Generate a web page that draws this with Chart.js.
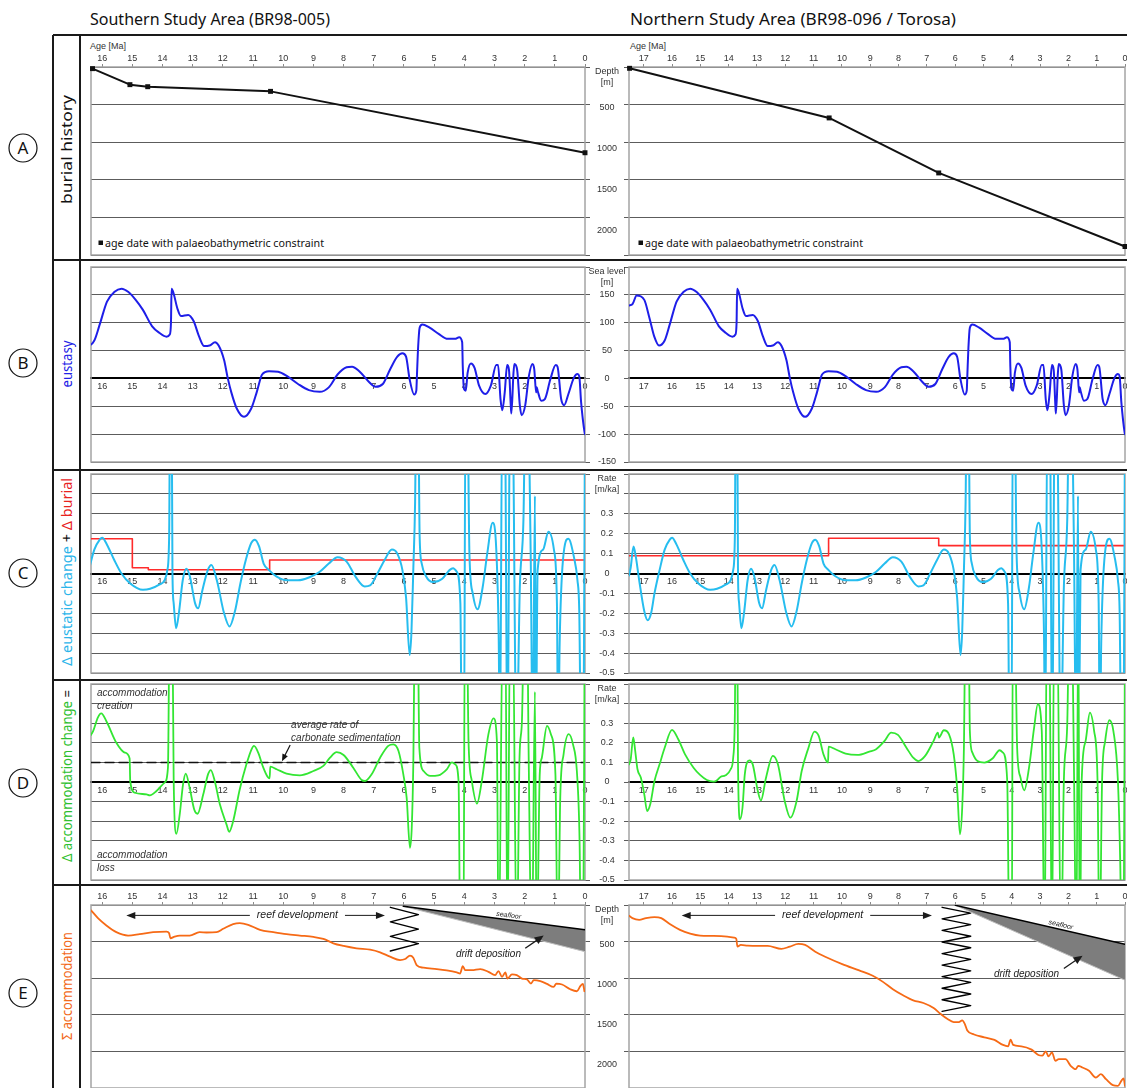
<!DOCTYPE html>
<html lang="en">
<head>
<meta charset="utf-8">
<title>Accommodation history</title>
<script src="https://cdn.jsdelivr.net/npm/chart.js@4.4.1/dist/chart.umd.min.js"></script>
<style>
  html, body { margin: 0; padding: 0; background: #fff; }
  body { position: relative; width: 1127px; height: 1088px; overflow: hidden; }
  #frame { position: absolute; left: 0; top: 0; }
  canvas.panel { position: absolute; }
</style>
</head>
<body>
<svg id="frame" width="1127" height="1088" xmlns="http://www.w3.org/2000/svg">
  <g stroke="#1a1a1a" stroke-width="2" fill="none">
    <line x1="53" y1="35" x2="1127" y2="35"/>
    <line x1="53" y1="260" x2="1127" y2="260"/>
    <line x1="53" y1="470" x2="1127" y2="470"/>
    <line x1="53" y1="680" x2="1127" y2="680"/>
    <line x1="53" y1="885" x2="1127" y2="885"/>
    <line x1="53" y1="35" x2="53" y2="1088"/>
    <line x1="80" y1="35" x2="80" y2="1088"/>
  </g>
  <g stroke="#111" stroke-width="1.2" fill="none">
    <circle cx="23" cy="148" r="14"/>
    <circle cx="23" cy="363" r="14"/>
    <circle cx="23" cy="573" r="14"/>
    <circle cx="23" cy="783" r="14"/>
    <circle cx="23" cy="993" r="14"/>
  </g>
  <g font-family="'Noto Sans', sans-serif" font-size="17" text-anchor="middle" fill="#111">
    <text x="23" y="154">A</text>
    <text x="23" y="369">B</text>
    <text x="23" y="579">C</text>
    <text x="23" y="789">D</text>
    <text x="23" y="999">E</text>
  </g>
  <g font-family="'Noto Sans', sans-serif" font-size="15.5" fill="#111">
    <text x="90" y="25" textLength="240" lengthAdjust="spacingAndGlyphs">Southern Study Area (BR98-005)</text>
    <text x="630" y="25" textLength="326" lengthAdjust="spacingAndGlyphs">Northern Study Area (BR98-096 / Torosa)</text>
  </g>
  <g font-family="'Liberation Sans', Arial, sans-serif" font-size="9" fill="#333">
    <text x="90" y="49">Age [Ma]</text>
    <text x="630" y="49">Age [Ma]</text>
  </g>
  <g font-family="'Noto Sans', sans-serif" font-size="10.5" fill="#111">
    <rect x="98.5" y="240.5" width="4.5" height="4.5" fill="#111"/>
    <text x="105" y="247" textLength="219" lengthAdjust="spacingAndGlyphs">age date with palaeobathymetric constraint</text>
    <rect x="638.5" y="240.5" width="4.5" height="4.5" fill="#111"/>
    <text x="645" y="247" textLength="218" lengthAdjust="spacingAndGlyphs">age date with palaeobathymetric constraint</text>
  </g>
  <g font-family="'Noto Sans', sans-serif" font-size="14" text-anchor="middle" fill="#111">
    <text transform="translate(72,149.5) rotate(-90)" textLength="109" lengthAdjust="spacingAndGlyphs">burial history</text>
    <text transform="translate(72,364) rotate(-90)" textLength="47" lengthAdjust="spacingAndGlyphs" fill="#2323e6">eustasy</text>
    <text transform="translate(72,572) rotate(-90)" textLength="188" lengthAdjust="spacingAndGlyphs"><tspan fill="#2cb5ea">Δ eustatic change</tspan><tspan fill="#111"> + </tspan><tspan fill="#e8231f">Δ burial</tspan></text>
    <text transform="translate(72,776) rotate(-90)" textLength="172" lengthAdjust="spacingAndGlyphs"><tspan fill="#2fc02f">Δ accommodation change</tspan><tspan fill="#111"> =</tspan></text>
    <text transform="translate(72,986) rotate(-90)" textLength="108" lengthAdjust="spacingAndGlyphs" fill="#f26a1b">Σ accommodation</text>
  </g>
</svg>
<script>
// ---------- data, ages in Ma ----------

// A: burial history [age, depth m]
const burialS = [[16.32, 20], [15.08, 216], [14.49, 241], [10.42, 298], [0, 1049]];
const burialN = [[17.5, 16], [10.45, 623], [6.58, 1296], [0, 2196]];

// B: eustasy [age, sea level m]
const eustasy = [
  [17.52, 131], [17.4, 133], [17.25, 149], [16.98, 141], [16.8, 109], [16.62, 74], [16.46, 59], [16.26, 68],
  [16.08, 97], [15.84, 138], [15.6, 155], [15.36, 161], [15.13, 155], [14.89, 141], [14.65, 123], [14.35, 94],
  [14.11, 82], [13.87, 75], [13.76, 79], [13.72, 100], [13.7, 161], [13.63, 152], [13.51, 126], [13.39, 112],
  [13.15, 114], [12.97, 103], [12.8, 77], [12.62, 58], [12.44, 59], [12.26, 65], [12.14, 59], [11.96, 33],
  [11.84, 1], [11.72, -25], [11.54, -54], [11.3, -69], [11.06, -54], [10.88, -25], [10.7, 7], [10.47, 13],
  [10.17, 12], [9.87, 4], [9.51, -10], [9.15, -21], [8.79, -24], [8.49, -16], [8.2, 7], [7.9, 20],
  [7.72, 21], [7.48, 13], [7.18, -5], [6.94, -15], [6.7, -10], [6.46, 16], [6.22, 39], [6.05, 45],
  [5.93, 39], [5.81, -2], [5.66, -29], [5.59, -22], [5.57, 4], [5.53, 56], [5.48, 91], [5.39, 97],
  [5.15, 91], [4.85, 80], [4.55, 71], [4.31, 71], [4.17, 74], [4.07, 65], [4.05, 21], [4.01, -19],
  [3.95, -22], [3.89, 10], [3.78, 27], [3.66, 19], [3.51, -13], [3.3, -28], [3.12, -13], [2.94, 24],
  [2.88, 24], [2.8, -37], [2.74, -57], [2.66, -25], [2.58, 24], [2.52, 16], [2.46, -48], [2.44, -63],
  [2.37, 10], [2.34, 26], [2.25, 16], [2.16, -48], [2.1, -66], [1.98, -48], [1.86, 4], [1.74, 26],
  [1.68, 16], [1.62, -25], [1.6, -16], [1.57, -22], [1.45, -40], [1.33, -37], [1.15, -2], [0.97, 24],
  [0.91, 21], [0.79, -37], [0.69, -48], [0.55, -28], [0.37, 1], [0.25, 8], [0.19, 4], [0.13, -42],
  [0.01, -98], [0, -100]
];

// C: rate of eustatic change [age, m/ka] (values beyond +-0.5 run off the plot)
const eustRate = [
  [17.52, -0.01], [17.46, 0.03], [17.36, 0.136], [17.28, 0.085], [17.16, -0.034], [16.98, -0.19], [16.86, -0.235],
  [16.74, -0.2], [16.62, -0.1], [16.44, 0.017], [16.26, 0.12], [16.08, 0.17], [16.0, 0.18], [15.84, 0.145],
  [15.6, 0.068], [15.36, 0.0], [15.07, -0.05], [14.65, -0.082], [14.41, -0.077], [14.11, -0.056], [13.93, -0.034],
  [13.84, 0.017], [13.78, 0.19], [13.75, 0.9], [13.7, 0.9], [13.67, 0.0], [13.63, -0.15], [13.55, -0.275],
  [13.45, -0.19], [13.33, -0.034], [13.21, 0.024], [13.09, -0.017], [12.92, -0.15], [12.82, -0.175], [12.68, -0.085],
  [12.5, 0.017], [12.38, 0.043], [12.2, -0.034], [11.96, -0.2], [11.78, -0.266], [11.6, -0.19], [11.42, -0.05],
  [11.24, 0.068], [11.06, 0.153], [10.94, 0.17], [10.8, 0.136], [10.65, 0.05], [10.47, 0.017], [10.23, -0.014],
  [9.87, -0.034], [9.51, -0.034], [9.15, -0.02], [8.79, 0.009], [8.49, 0.05], [8.2, 0.082], [7.9, 0.06],
  [7.6, -0.017], [7.3, -0.065], [7.12, -0.06], [6.88, 0.0], [6.64, 0.068], [6.4, 0.12], [6.22, 0.1],
  [6.05, 0.017], [5.93, -0.12], [5.81, -0.41], [5.75, -0.29], [5.69, 0.017], [5.63, 0.36], [5.59, 0.9],
  [5.53, 0.9], [5.48, 0.19], [5.41, 0.05], [5.27, -0.014], [5.03, -0.043], [4.73, -0.026], [4.49, 0.017],
  [4.37, 0.026], [4.25, 0.009], [4.13, -0.15], [4.08, -0.9], [4.01, -0.9], [3.96, 0.9], [3.9, 0.9],
  [3.83, 0.1], [3.72, -0.1], [3.56, -0.18], [3.39, -0.068], [3.24, 0.1], [3.06, 0.255], [2.94, 0.12],
  [2.86, -0.32], [2.82, -0.9], [2.74, 0.9], [2.66, 0.9], [2.57, -0.9], [2.48, 0.9], [2.41, 0.9],
  [2.27, -0.9], [2.16, -0.07], [2.04, 0.27], [1.97, 0.9], [1.9, 0.9], [1.8, 0.1], [1.73, -0.9],
  [1.66, 0.39], [1.63, -0.9], [1.57, 0.017], [1.39, 0.12], [1.21, 0.21], [1.03, 0.12], [0.93, -0.15],
  [0.89, -0.9], [0.84, -0.35], [0.73, 0.068], [0.55, 0.174], [0.37, 0.085], [0.25, -0.034], [0.19, -0.19],
  [0.13, -0.9], [0.05, -0.9], [0.0, 0.9]
];

// C: burial rate, held from each age until the next [age, m/ka]
const burialRateS = [[16.37, 0.175], [15.0, 0.029], [14.47, 0.019], [10.45, 0.068], [0, 0.068]];
const burialRateN = [[17.52, 0.089], [10.47, 0.177], [6.58, 0.14], [0, 0.14]];

// D: accommodation change [age, m/ka]
const accRateS = [
  [16.42, 0.23], [16.3, 0.26], [16.14, 0.33], [16.03, 0.35], [15.86, 0.31], [15.53, 0.2], [15.25, 0.15],
  [15.09, 0.12], [15.07, 0.005], [14.92, -0.055], [14.53, -0.063], [14.42, -0.068], [14.2, -0.046], [13.93, -0.003],
  [13.82, 0.073], [13.76, 0.9], [13.68, 0.9], [13.63, 0.005], [13.54, -0.264], [13.43, -0.165], [13.32, -0.012],
  [13.23, 0.043], [13.1, -0.03], [12.95, -0.14], [12.84, -0.162], [12.65, -0.063], [12.49, 0.04], [12.4, 0.061],
  [12.27, 0.005], [12.1, -0.114], [11.88, -0.216], [11.79, -0.254], [11.66, -0.2], [11.44, -0.037], [11.22, 0.09],
  [11.05, 0.167], [10.97, 0.184], [10.83, 0.15], [10.66, 0.073], [10.52, 0.027], [10.45, 0.019], [10.43, 0.078],
  [10.22, 0.065], [9.89, 0.043], [9.45, 0.034], [9.0, 0.056], [8.67, 0.082], [8.45, 0.124], [8.23, 0.152],
  [8.0, 0.138], [7.68, 0.073], [7.4, 0.01], [7.29, 0.005], [7.07, 0.039], [6.79, 0.124], [6.52, 0.184],
  [6.35, 0.192], [6.18, 0.158], [6.02, 0.039], [5.91, -0.08], [5.8, -0.336], [5.74, -0.23], [5.69, 0.09],
  [5.63, 0.9], [5.55, 0.9], [5.49, 0.175], [5.35, 0.056], [5.13, 0.031], [4.86, 0.034], [4.58, 0.065],
  [4.41, 0.1], [4.3, 0.09], [4.19, 0.005], [4.13, -0.9], [4.03, -0.9], [3.98, 0.9], [3.92, 0.9],
  [3.86, 0.21], [3.75, 0.005], [3.58, -0.11], [3.42, 0.005], [3.2, 0.244], [3.03, 0.325], [2.92, 0.21],
  [2.86, -0.9], [2.72, 0.9], [2.64, 0.9], [2.57, -0.9], [2.48, 0.9], [2.4, 0.9], [2.26, -0.9],
  [2.17, 0.124], [2.09, 0.31], [2.01, 0.9], [1.92, 0.9], [1.87, 0.175], [1.76, -0.9], [1.66, 0.46],
  [1.6, -0.9], [1.5, 0.039], [1.43, 0.124], [1.26, 0.286], [1.13, 0.244], [0.98, 0.039], [0.9, -0.9],
  [0.82, -0.08], [0.71, 0.141], [0.54, 0.244], [0.4, 0.193], [0.27, 0.056], [0.18, -0.3], [0.13, -0.9],
  [0.06, -0.9], [0.01, 0.9]
];
const accRateN = [
  [17.52, 0.09], [17.46, 0.116], [17.37, 0.227], [17.3, 0.158], [17.22, 0.065], [17.1, 0.022], [16.98, -0.063],
  [16.88, -0.148], [16.77, -0.114], [16.62, 0.005], [16.44, 0.09], [16.26, 0.175], [16.0, 0.266], [15.78, 0.218],
  [15.54, 0.141], [15.24, 0.073], [15.01, 0.036], [14.77, 0.01], [14.53, 0.002], [14.41, 0.009], [14.29, 0.026],
  [14.11, 0.034], [13.93, 0.065], [13.84, 0.124], [13.78, 0.354], [13.75, 0.9], [13.7, 0.9], [13.67, 0.1],
  [13.6, -0.19], [13.51, -0.13], [13.43, 0.039], [13.27, 0.11], [13.15, 0.09], [12.97, -0.046], [12.86, -0.094],
  [12.68, 0.022], [12.44, 0.133], [12.26, 0.09], [12.02, -0.097], [11.82, -0.182], [11.6, -0.097], [11.42, 0.056],
  [11.18, 0.175], [10.97, 0.257], [10.82, 0.235], [10.65, 0.141], [10.49, 0.099], [10.47, 0.18], [10.23, 0.167],
  [9.87, 0.145], [9.45, 0.138], [9.03, 0.155], [8.79, 0.167], [8.49, 0.21], [8.26, 0.252], [8.02, 0.24],
  [7.72, 0.175], [7.48, 0.124], [7.3, 0.107], [7.06, 0.133], [6.76, 0.21], [6.61, 0.252], [6.57, 0.227],
  [6.4, 0.264], [6.22, 0.244], [6.05, 0.141], [5.93, -0.029], [5.83, -0.267], [5.75, -0.13], [5.69, 0.175],
  [5.63, 0.9], [5.53, 0.9], [5.48, 0.26], [5.39, 0.15], [5.21, 0.107], [4.97, 0.099], [4.67, 0.121],
  [4.43, 0.162], [4.31, 0.15], [4.16, 0.005], [4.08, -0.9], [4.0, -0.9], [3.96, 0.9], [3.9, 0.9],
  [3.81, 0.175], [3.69, 0.022], [3.56, -0.043], [3.39, 0.073], [3.21, 0.278], [3.08, 0.397], [2.94, 0.26],
  [2.84, -0.9], [2.76, 0.9], [2.68, 0.9], [2.58, -0.9], [2.5, 0.9], [2.4, 0.9], [2.26, -0.9],
  [2.16, 0.005], [2.04, 0.295], [1.96, 0.9], [1.89, 0.9], [1.8, 0.039], [1.72, -0.9], [1.65, 0.9],
  [1.6, -0.9], [1.53, 0.005], [1.39, 0.21], [1.24, 0.354], [1.09, 0.26], [0.97, 0.005], [0.9, -0.9],
  [0.81, 0.005], [0.7, 0.21], [0.55, 0.315], [0.41, 0.26], [0.25, 0.005], [0.17, -0.4], [0.11, -0.9],
  [0.05, -0.9], [0.0, 0.9]
];
const carbRate = 0.1;   // average rate of carbonate sedimentation

// E: cumulative accommodation [age, depth m]
const accumS = [
  [16.37, 66], [16.14, 164], [15.86, 256], [15.53, 340], [15.14, 382], [14.76, 365], [14.31, 340], [13.87, 332],
  [13.78, 353], [13.74, 416], [13.6, 395], [13.43, 382], [13.1, 382], [12.77, 340], [12.54, 344], [12.21, 340],
  [11.99, 298], [11.66, 239], [11.44, 227], [11.16, 248], [10.77, 311], [10.33, 340], [9.89, 365], [9.45, 382],
  [9.0, 399], [8.67, 424], [8.34, 479], [8.0, 512], [7.57, 542], [7.12, 559], [6.79, 592], [6.46, 647],
  [6.13, 689], [5.96, 676], [5.8, 634], [5.69, 659], [5.58, 752], [5.35, 785], [4.91, 802], [4.58, 819],
  [4.25, 844], [4.14, 857], [4.05, 764], [3.97, 815], [3.75, 815], [3.47, 802], [3.2, 836], [2.98, 878],
  [2.87, 827], [2.75, 899], [2.64, 844], [2.57, 920], [2.42, 869], [2.26, 878], [2.09, 920], [1.92, 932],
  [1.79, 983], [1.7, 941], [1.48, 953], [1.26, 987], [1.04, 1025], [0.95, 983], [0.76, 995], [0.49, 1054],
  [0.27, 1079], [0.15, 1012], [0.07, 987], [0.02, 1079]
];
const accumN = [
  [17.52, 134], [17.4, 164], [17.16, 185], [16.92, 164], [16.62, 151], [16.38, 164], [16.08, 239], [15.72, 311],
  [15.36, 357], [15.01, 382], [14.53, 386], [14.05, 395], [13.81, 407], [13.73, 424], [13.69, 521], [13.57, 500],
  [13.33, 508], [12.97, 512], [12.62, 512], [12.14, 550], [11.84, 521], [11.54, 487], [11.3, 500], [10.94, 584],
  [10.59, 647], [9.99, 739], [9.39, 819], [8.91, 886], [8.55, 962], [8.2, 1054], [7.84, 1130], [7.48, 1193],
  [7.12, 1226], [6.76, 1289], [6.52, 1361], [6.28, 1424], [6.05, 1466], [5.87, 1466], [5.75, 1445], [5.66, 1487],
  [5.57, 1571], [5.33, 1621], [4.97, 1655], [4.61, 1688], [4.31, 1751], [4.13, 1768], [4.04, 1684], [3.95, 1751],
  [3.66, 1768], [3.3, 1810], [3.06, 1877], [2.92, 1886], [2.8, 1831], [2.7, 1894], [2.58, 1844], [2.46, 1949],
  [2.34, 1928], [2.1, 1928], [1.92, 2012], [1.74, 2054], [1.65, 2012], [1.51, 2033], [1.27, 2075], [1.03, 2159],
  [0.85, 2117], [0.67, 2180], [0.43, 2255], [0.25, 2264], [0.13, 2201], [0.05, 2171], [0.0, 2264]
];

// E: seafloor, base of drift wedge and reef/drift interfingering [age, depth m]
const seafloorS = [[6.02, 17], [0, 311]];
const driftBaseS = [[6.02, 17], [0, 584]];
const seafloorN = [[5.99, 4], [0, 491]];
const driftBaseN = [[5.99, 4], [0, 941]];
const zigzagS = [[6.45, 29], [5.52, 120], [6.45, 211], [5.52, 302], [6.45, 393], [5.52, 484], [6.45, 575]];
const zigzagN = [
  [6.46, 29], [5.45, 101], [6.46, 174], [5.45, 246], [6.46, 318], [5.45, 391], [6.46, 463], [5.45, 535],
  [6.46, 608], [5.45, 680], [6.46, 752], [5.45, 825], [6.46, 897], [5.45, 969], [6.46, 1042], [5.45, 1114],
  [6.46, 1186], [5.45, 1259], [6.46, 1331]
];

// tick labels of the value axes
const depthTicks = [500, 1000, 1500, 2000];
const levelTicks = [150, 100, 50, 0, -50, -100, -150];
const rateTicks = [0.3, 0.2, 0.1, 0, -0.1, -0.2, -0.3, -0.4, -0.5];

// ---------- drawing ----------
const BLUE = '#1e1ee8', CYAN = '#26bdef', RED = '#ff2b2b', GREEN = '#33e633', ORANGE = '#f66a16';
const FONT = "'Liberation Sans', Arial, sans-serif";

Chart.defaults.font.family = FONT;
Chart.defaults.font.size = 9;
Chart.defaults.color = '#333';

const toXY = arr => arr.map(([x, y]) => ({ x, y }));

// plot boxes in page pixels
const COLS = [
  { plotL: 91, plotR: 585, cvL: 83, cvR: 600, xMax: 16.37, yAxisW: 6 },
  { plotL: 629, plotR: 1125, cvL: 579, cvR: 1133, xMax: 17.52, yAxisW: 42 }
];
const ROWS = {
  A: { plotT: 67, plotB: 255, cvT: 40, cvB: 263, topAxis: true },
  B: { plotT: 267, plotB: 462, cvT: 259, cvB: 470 },
  C: { plotT: 474, plotB: 673, cvT: 466, cvB: 681 },
  D: { plotT: 684, plotB: 880, cvT: 676, cvB: 888 },
  E: { plotT: 905, plotB: 1088, cvT: 885, cvB: 1096, topAxis: true }
};
const LABEL_CX = 607;   // centre of the value labels between the two columns

function arrow(ctx, x1, y1, x2, y2, len, half) {
    const a = Math.atan2(y2 - y1, x2 - x1);
    const c = Math.cos(a), s = Math.sin(a);
    ctx.beginPath();
    ctx.moveTo(x1, y1);
    ctx.lineTo(x2 - len * 0.7 * c, y2 - len * 0.7 * s);
    ctx.stroke();
    ctx.beginPath();
    ctx.moveTo(x2, y2);
    ctx.lineTo(x2 - len * c + half * s, y2 - len * s - half * c);
    ctx.lineTo(x2 - len * c - half * s, y2 - len * s + half * c);
    ctx.closePath();
    ctx.fill();
}

const boxPlugin = {
    id: 'plotBox',
    beforeDatasetsDraw(chart) {
        const { ctx, chartArea: a } = chart;
        ctx.save();
        ctx.strokeStyle = '#a4a4a4';
        ctx.lineWidth = 1.5;
        ctx.strokeRect(a.left, a.top, a.right - a.left, a.bottom - a.top);
        ctx.restore();
    }
};

function valueLabels(col, title, labels, fmt) {
    return {
        id: 'valueLabels',
        afterDraw(chart) {
            const { ctx, chartArea: a, scales: { y } } = chart;
            const cx = LABEL_CX - col.cvL;
            ctx.save();
            ctx.font = '9px ' + FONT;
            ctx.fillStyle = '#333';
            ctx.textAlign = 'center';
            ctx.textBaseline = 'middle';
            ctx.fillText(title[0], cx, a.top + 5);
            ctx.fillText(title[1], cx, a.top + 16);
            labels.forEach(v => ctx.fillText(fmt(v), cx, y.getPixelForValue(v)));
            ctx.restore();
        }
    };
}

// reef / drift annotations of the accommodation panels
function sectionNotes(n) {
    return {
        id: 'sectionNotes',
        afterDatasetsDraw(chart) {
            const { ctx, scales: { x, y } } = chart;
            const px = v => x.getPixelForValue(v), py = v => y.getPixelForValue(v);
            ctx.save();
            ctx.fillStyle = '#1a1a1a';
            ctx.strokeStyle = '#1a1a1a';
            ctx.lineWidth = 1;
            ctx.textAlign = 'center';
            ctx.textBaseline = 'middle';

            ctx.font = 'italic 10.5px ' + FONT;
            const ry = py(n.reefDepth), mx = px(n.reefMid);
            ctx.fillText('reef development', mx, ry);
            const hw = ctx.measureText('reef development').width / 2 + 7;
            arrow(ctx, mx - hw, ry, px(n.reefFrom), ry, 9, 3.5);
            arrow(ctx, mx + hw, ry, px(n.reefTo), ry, 9, 3.5);

            ctx.font = 'italic 10px ' + FONT;
            ctx.fillText('drift deposition', px(n.drift[0]), py(n.drift[1]));
            ctx.lineWidth = 1.3;
            arrow(ctx, px(n.driftArrow[0]), py(n.driftArrow[1]), px(n.driftArrow[2]), py(n.driftArrow[3]), 9, 4);

            const [s0, s1] = n.seafloor;
            const x0 = px(s0[0]), y0 = py(s0[1]), x1 = px(s1[0]), y1 = py(s1[1]);
            const lx = px(n.seafloorLabel);
            const ly = y0 + (lx - x0) / (x1 - x0) * (y1 - y0);
            ctx.translate(lx, ly);
            ctx.rotate(Math.atan2(y1 - y0, x1 - x0));
            ctx.font = 'italic 7px ' + FONT;
            ctx.textBaseline = 'bottom';
            ctx.fillText('seafloor', 0, -1);
            ctx.restore();
        }
    };
}

const rateNotes = {
    id: 'rateNotes',
    afterDatasetsDraw(chart) {
        const { ctx, chartArea: a, scales: { x, y } } = chart;
        const px = v => x.getPixelForValue(v), py = v => y.getPixelForValue(v);
        ctx.save();
        ctx.fillStyle = '#333';
        ctx.strokeStyle = '#111';
        ctx.font = 'italic 10px ' + FONT;
        ctx.textBaseline = 'middle';
        ctx.fillText('accommodation', a.left + 6, a.top + 9);
        ctx.fillText('creation', a.left + 6, a.top + 22);
        ctx.fillText('accommodation', a.left + 6, a.bottom - 25);
        ctx.fillText('loss', a.left + 6, a.bottom - 12);
        ctx.fillText('average rate of', px(9.74), py(0.291));
        ctx.fillText('carbonate sedimentation', px(9.74), py(0.224));
        ctx.fillStyle = '#111';
        ctx.lineWidth = 1.2;
        arrow(ctx, px(9.77), py(0.189), px(10.04), py(0.106), 7, 3);
        ctx.restore();
    }
};

function makePanel(row, c, cfg) {
    const r = ROWS[row], col = COLS[c];
    const canvas = document.createElement('canvas');
    const w = col.cvR - col.cvL, h = r.cvB - r.cvT;
    canvas.className = 'panel';
    canvas.width = w;
    canvas.height = h;
    canvas.style.left = col.cvL + 'px';
    canvas.style.top = r.cvT + 'px';
    canvas.style.width = w + 'px';
    canvas.style.height = h + 'px';
    document.body.appendChild(canvas);

    const plugins = [boxPlugin];
    if (c === 1) plugins.push(valueLabels(col, cfg.title, cfg.labels, cfg.fmt));
    if (cfg.notes) plugins.push(cfg.notes);

    return new Chart(canvas, {
        type: 'line',
        data: { datasets: cfg.datasets },
        options: {
            responsive: false,
            animation: false,
            devicePixelRatio: 1,
            events: [],
            layout: {
                padding: {
                    left: col.plotL - col.cvL - (c === 1 ? col.yAxisW : 0),
                    right: col.cvR - col.plotR - (c === 0 ? col.yAxisW : 0),
                    top: r.topAxis ? 0 : r.plotT - r.cvT,
                    bottom: r.cvB - r.plotB
                }
            },
            plugins: { legend: { display: false }, tooltip: { enabled: false } },
            elements: {
                point: { radius: 0 },
                line: { borderCapStyle: 'round', borderJoinStyle: 'round' }
            },
            scales: {
                x: {
                    type: 'linear',
                    reverse: true,
                    min: 0,
                    max: col.xMax,
                    position: r.topAxis ? 'top' : { y: 0 },
                    afterFit: s => { if (r.topAxis) s.height = r.plotT - r.cvT; },
                    ticks: { stepSize: 1, includeBounds: false, autoSkip: false, maxRotation: 0, padding: r.topAxis ? 0 : 3 },
                    grid: { drawOnChartArea: false, drawTicks: !!r.topAxis, tickLength: 3, color: '#8a8a8a' },
                    border: { display: !r.topAxis, color: '#000', width: 2 }
                },
                y: {
                    type: 'linear',
                    position: c === 0 ? 'right' : 'left',
                    reverse: !!cfg.reverse,
                    min: cfg.min,
                    max: cfg.max,
                    afterFit: s => { s.width = col.yAxisW; },
                    ticks: { display: false, stepSize: cfg.step, includeBounds: false },
                    grid: { color: '#5c5c5c', lineWidth: 1, drawTicks: true, tickLength: 5 },
                    border: { display: false }
                }
            }
        },
        plugins
    });
}

const depthFmt = v => String(v);
const rateFmt = v => String(Math.round(v * 10) / 10);

// A - burial history
[[burialS, 0], [burialN, 1]].forEach(([d, c]) => makePanel('A', c, {
    min: 0, max: 2300, step: 500, reverse: true,
    title: ['Depth', '[m]'], labels: depthTicks, fmt: depthFmt,
    datasets: [{
        data: toXY(d), borderColor: '#111', borderWidth: 2, tension: 0, clip: 6,
        pointStyle: 'rect', pointRadius: 3.5, pointBackgroundColor: '#111', pointBorderWidth: 0
    }]
}));

// B - eustasy
[0, 1].forEach(c => makePanel('B', c, {
    min: -150, max: 200, step: 50,
    title: ['Sea level', '[m]'], labels: levelTicks, fmt: depthFmt,
    datasets: [{ data: toXY(eustasy), borderColor: BLUE, borderWidth: 2, cubicInterpolationMode: 'monotone' }]
}));

// C - eustatic change + burial
[[burialRateS, 0], [burialRateN, 1]].forEach(([d, c]) => makePanel('C', c, {
    min: -0.5, max: 0.5, step: 0.1,
    title: ['Rate', '[m/ka]'], labels: rateTicks, fmt: rateFmt,
    datasets: [
        { data: toXY(eustRate), borderColor: CYAN, borderWidth: 2, cubicInterpolationMode: 'monotone' },
        { data: toXY(d), borderColor: RED, borderWidth: 1.6, stepped: 'before' }
    ]
}));

// D - accommodation change
makePanel('D', 0, {
    min: -0.5, max: 0.5, step: 0.1, notes: rateNotes,
    datasets: [
        { data: toXY(accRateS), borderColor: GREEN, borderWidth: 1.8, cubicInterpolationMode: 'monotone' },
        { data: [{ x: COLS[0].xMax, y: carbRate }, { x: 0, y: carbRate }], borderColor: '#111', borderWidth: 1.5, borderDash: [9, 5] }
    ]
});
makePanel('D', 1, {
    min: -0.5, max: 0.5, step: 0.1,
    title: ['Rate', '[m/ka]'], labels: rateTicks, fmt: rateFmt,
    datasets: [{ data: toXY(accRateN), borderColor: GREEN, borderWidth: 1.8, cubicInterpolationMode: 'monotone' }]
});

// E - cumulative accommodation
function accumSets(acc, sea, base, zig) {
    return [
        { data: toXY(acc), borderColor: ORANGE, borderWidth: 1.8, cubicInterpolationMode: 'monotone' },
        { data: toXY(sea), borderColor: '#000', borderWidth: 1.5 },
        { data: toXY(base), borderColor: '#bdbdbd', borderWidth: 1, fill: '-1', backgroundColor: '#7d7d7d' },
        { data: toXY(zig), borderColor: '#000', borderWidth: 1.4 }
    ];
}
makePanel('E', 0, {
    min: 0, max: 2290, step: 500, reverse: true,
    datasets: accumSets(accumS, seafloorS, driftBaseS, zigzagS),
    notes: sectionNotes({
        reefFrom: 15.2, reefTo: 6.63, reefDepth: 130, reefMid: 9.53,
        drift: [3.2, 617], driftArrow: [1.98, 542, 1.37, 382],
        seafloor: seafloorS, seafloorLabel: 2.55
    })
});
makePanel('E', 1, {
    min: 0, max: 2290, step: 500, reverse: true,
    title: ['Depth', '[m]'], labels: depthTicks, fmt: depthFmt,
    datasets: accumSets(accumN, seafloorN, driftBaseN, zigzagN),
    notes: sectionNotes({
        reefFrom: 15.66, reefTo: 6.82, reefDepth: 130, reefMid: 10.68,
        drift: [3.48, 869], driftArrow: [2.16, 794, 1.5, 634],
        seafloor: seafloorN, seafloorLabel: 2.3
    })
});
</script>
</body>
</html>
